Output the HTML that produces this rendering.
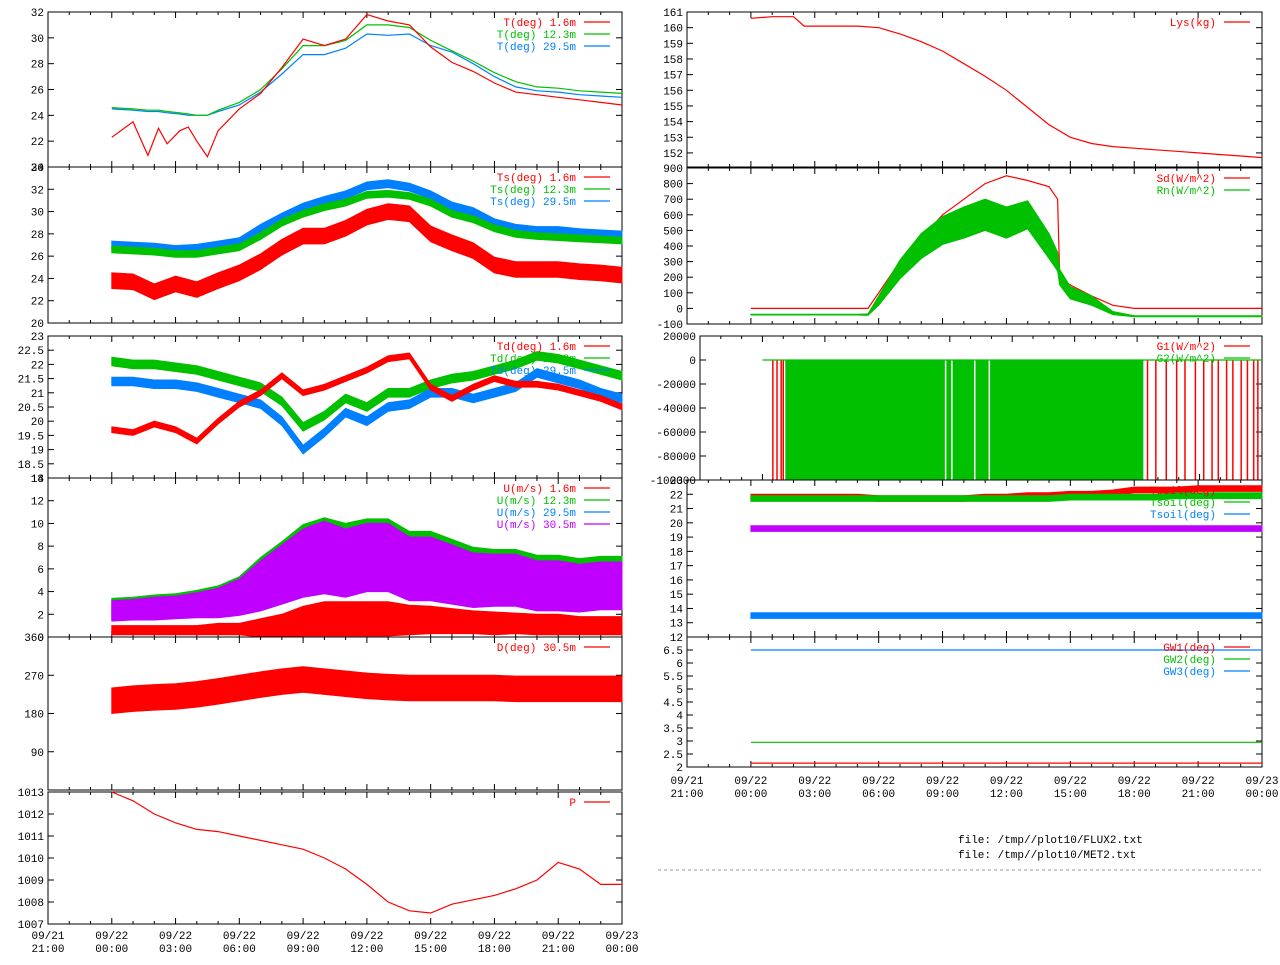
<!DOCTYPE html>
<html><head><meta charset="utf-8">
<style>
body{margin:0;background:#fff;}
svg text{font-family:"Liberation Mono","DejaVu Sans Mono",monospace;font-size:11px;}
</style></head>
<body>
<svg id="chart" width="1280" height="960" xmlns="http://www.w3.org/2000/svg">
<rect width="1280" height="960" fill="#fff"/>
<text x="958" y="843">file: /tmp//plot10/FLUX2.txt</text>
<text x="958" y="858">file: /tmp//plot10/MET2.txt</text>
<line x1="658" y1="870" x2="1262" y2="870" stroke="#999" stroke-dasharray="3,3"/>
</svg>
<script>
// hours since 09/22 00:00
const hrs = [0,1,2,3,4,5,6,7,8,9,10,11,12,13,14,15,16,17,18,19,20,21,22,23,24];
const tT = [0,1,1.7,2.2,2.6,3.2,3.6,4,4.5,5,6,7,8,9,10,11,12,13,14,15,16,17,18,19,20,21,22,23,24];
const t16 = [22.3,23.5,20.9,23.0,21.8,22.8,23.1,22.0,20.8,22.8,24.5,25.7,27.7,29.9,29.4,29.9,31.8,31.3,31.0,29.3,28.1,27.4,26.5,25.8,25.6,25.4,25.2,25.0,24.8];
const t123 = [24.6,24.5,24.4,24.4,24.3,24.2,24.1,24.0,24.0,24.4,25.0,26.0,27.6,29.4,29.4,29.8,31.0,31.0,30.8,29.8,29.0,28.2,27.3,26.6,26.2,26.1,25.9,25.8,25.7];
const t295 = [24.5,24.4,24.3,24.3,24.2,24.1,24.0,24.0,24.0,24.3,24.8,25.8,27.2,28.7,28.7,29.2,30.3,30.2,30.3,29.4,28.9,28.0,27.0,26.2,25.9,25.8,25.6,25.5,25.4];
const ts16 = [23.8,23.7,22.8,23.5,23.0,23.8,24.5,25.5,26.8,27.8,27.8,28.5,29.5,30.0,29.8,28.0,27.2,26.5,25.2,24.8,24.8,24.8,24.6,24.5,24.3];
const ts123 = [26.6,26.5,26.4,26.2,26.2,26.5,26.8,27.8,29.0,29.8,30.4,30.8,31.5,31.6,31.4,30.8,29.8,29.3,28.5,28.0,27.8,27.7,27.6,27.5,27.4];
const ts295 = [27.0,26.9,26.8,26.6,26.7,27.0,27.3,28.5,29.5,30.4,31.0,31.5,32.3,32.5,32.2,31.5,30.5,30.0,29.0,28.5,28.3,28.3,28.1,28.0,27.9];
const td16 = [19.7,19.6,19.9,19.7,19.3,20.0,20.6,21.0,21.6,21.0,21.2,21.5,21.8,22.2,22.3,21.2,20.8,21.2,21.5,21.3,21.3,21.2,21.0,20.8,20.5];
const td123 = [22.1,22.0,22.0,21.9,21.8,21.6,21.4,21.2,20.7,19.8,20.2,20.8,20.5,21.0,21.0,21.3,21.5,21.6,21.8,22.0,22.3,22.2,22.0,21.8,21.6];
const td295 = [21.4,21.4,21.3,21.3,21.2,21.0,20.8,20.6,20.0,19.0,19.6,20.3,20.0,20.5,20.6,21.0,21.0,20.8,21.0,21.2,21.7,21.5,21.3,21.0,20.8];
const u16 = [0.6,0.6,0.6,0.6,0.6,0.7,0.7,0.8,1.0,1.4,1.6,1.6,1.6,1.6,1.5,1.5,1.4,1.3,1.2,1.2,1.1,1.1,1.0,1.0,1.0];
const u16w = [0.4,0.4,0.4,0.4,0.4,0.5,0.5,0.8,1.0,1.3,1.5,1.5,1.5,1.5,1.3,1.2,1.1,1.0,1.0,0.9,0.9,0.9,0.8,0.8,0.8];
const u123 = [2.5,2.6,2.7,2.8,3.0,3.2,3.7,4.8,5.8,6.9,7.3,7.0,7.4,7.4,6.5,6.5,6.0,5.5,5.4,5.4,5.0,5.0,4.8,5.0,5.0];
const u305 = [2.3,2.4,2.5,2.6,2.8,3.0,3.5,4.5,5.5,6.5,7.0,6.5,7.0,7.0,6.0,6.0,5.5,5.0,5.0,5.0,4.5,4.5,4.3,4.5,4.5];
const u305w = [0.9,0.9,1.0,1.0,1.1,1.3,1.6,2.2,2.6,3.0,3.2,3.0,3.0,3.0,2.8,2.8,2.6,2.4,2.3,2.3,2.2,2.2,2.1,2.1,2.1];
const dir = [210,215,218,220,225,232,240,248,255,260,255,250,245,242,240,240,240,240,240,238,238,238,238,238,238];
const pres = [1013.0,1012.6,1012.0,1011.6,1011.3,1011.2,1011.0,1010.8,1010.6,1010.4,1010.0,1009.5,1008.8,1008.0,1007.6,1007.5,1007.9,1008.1,1008.3,1008.6,1009.0,1009.8,1009.5,1008.8,1008.8];
const tL = [0,1,2,2.5,3,4,5,6,7,8,9,10,11,12,13,14,15,16,17,18,19,20,21,22,23,24];
const lys = [160.6,160.7,160.7,160.1,160.1,160.1,160.1,160.0,159.6,159.1,158.5,157.7,156.9,156.0,154.9,153.8,153.0,152.6,152.4,152.3,152.2,152.1,152.0,151.9,151.8,151.7];
const tS = [0,5,5.5,6,7,8,9,10,11,12,13,14,14.4,14.5,15,16,17,18,24];
const sd = [0,0,0,100,300,450,600,700,800,850,820,780,700,200,150,80,20,0,0];
const rn = [-40,-40,-40,50,250,400,500,550,600,550,600,400,300,200,100,50,-30,-50,-50];
const rnw = [2,2,5,30,60,80,90,100,100,100,90,80,60,50,40,30,10,3,3];
const gGreenSpan = [1.1,18.3];
const gRedStripes = [0.5,0.7,0.9,1.0,8.8,9.1,10.2,10.9,18.5,18.9,19.4,19.9,20.3,20.8,21.2,21.6,21.9,22.3,22.6,23.0,23.3,23.6,23.8];
const soilR = [21.8,21.8,21.8,21.8,21.8,21.8,21.7,21.7,21.7,21.7,21.7,21.8,21.8,21.9,21.9,22.0,22.0,22.1,22.3,22.3,22.3,22.4,22.4,22.4,22.4];
const soilG = [21.7,21.7,21.7,21.7,21.7,21.7,21.7,21.7,21.7,21.7,21.7,21.7,21.7,21.7,21.7,21.8,21.8,21.8,21.8,21.8,21.9,21.9,21.9,21.9,21.9];
const soilP = [19.6,19.6,19.6,19.6,19.6,19.6,19.6,19.6,19.6,19.6,19.6,19.6,19.6,19.6,19.6,19.6,19.6,19.6,19.6,19.6,19.6,19.6,19.6,19.6,19.6];
const soilB = [13.5,13.5,13.5,13.5,13.5,13.5,13.5,13.5,13.5,13.5,13.5,13.5,13.5,13.5,13.5,13.5,13.5,13.5,13.5,13.5,13.5,13.5,13.5,13.5,13.5];
const gw1 = [2.15,2.15];
const gw2 = [2.95,2.95];
const gw3 = [6.5,6.5];
const tGW = [0,24];
const xTickLabels = ["09/21","09/22","09/22","09/22","09/22","09/22","09/22","09/22","09/22","09/23"];
const xTickTimes = ["21:00","00:00","03:00","06:00","09:00","12:00","15:00","18:00","21:00","00:00"];

const S = document.getElementById('chart');
const NS = 'http://www.w3.org/2000/svg';
const RED='#ff0000',GRN='#00c000',BLU='#0080ff',PUR='#c000ff';
function mk(tag, at){const e=document.createElementNS(NS,tag);for(const k in at)e.setAttribute(k,at[k]);S.appendChild(e);return e;}

function panel(name,x0,x1,y0,y1,ymin,ymax,ticks,fmt){
  const p={x0,x1,y0,y1,ymin,ymax};
  p.X=t=>x0+(t+3)*(x1-x0)/27;
  p.Y=v=>y1-(v-ymin)*(y1-y0)/(ymax-ymin);
  const fr=mk('rect',{x:x0,y:y0,width:x1-x0,height:y1-y0,fill:'none',stroke:'#000'});
  
  
  ticks.forEach(v=>{
    const y=p.Y(v);
    mk('line',{x1:x0,y1:y,x2:x0+6,y2:y,stroke:'#000'});
    mk('line',{x1:x1,y1:y,x2:x1-6,y2:y,stroke:'#000'});
    const tx=mk('text',{x:x0-4,y:y+4,'text-anchor':'end'});
    tx.textContent=fmt(v);
    
    
  });
  for(let h=-3;h<=24;h++){
    const x=p.X(h),L=(h%3===0)?6:3;
    mk('line',{x1:x,y1:y1,x2:x,y2:y1-L,stroke:'#000'});
    mk('line',{x1:x,y1:y0,x2:x,y2:y0+L,stroke:'#000'});
  }
  return p;
}
function line(p,ts,vs,col,name){
  const d=ts.map((t,i)=>(i?'L':'M')+p.X(t).toFixed(1)+','+p.Y(vs[i]).toFixed(1)).join('');
  const e=mk('path',{d,fill:'none',stroke:col,'stroke-width':1.2});
  
  
}
function band(p,ts,cs,ws,col,name){
  const up=ts.map((t,i)=>p.X(t).toFixed(1)+','+p.Y(cs[i]+(Array.isArray(ws)?ws[i]:ws)).toFixed(1));
  const dn=ts.map((t,i)=>p.X(t).toFixed(1)+','+p.Y(cs[i]-(Array.isArray(ws)?ws[i]:ws)).toFixed(1)).reverse();
  const e=mk('polygon',{points:up.concat(dn).join(' '),fill:col,stroke:col,'stroke-width':1});
  
  
}
function legend(p,items,xr){
  items.forEach((it,i)=>{
    const y=p.y0+14+i*12;
    const tx=mk('text',{x:xr,y:y,'text-anchor':'end',fill:it[1]});
    tx.textContent=it[0];
    
    
    mk('line',{x1:xr+8,y1:y-4,x2:p.x1-12,y2:y-4,stroke:it[1],'stroke-width':1.2});
  });
}
function xlabels(p,y){
  for(let i=0;i<xTickLabels.length;i++){
    const x=p.X(-3+i*3);
    const a=mk('text',{x:x,y:y,'text-anchor':'middle'});a.textContent=xTickLabels[i];
    
    
    const b=mk('text',{x:x,y:y+13,'text-anchor':'middle'});b.textContent=xTickTimes[i];
    
    
  }
}
const rng=(a,b,s)=>{const r=[];for(let v=a;v<=b+1e-9;v+=s)r.push(+v.toFixed(2));return r;};
const LX0=48,LX1=622,RX0=687,RX1=1262;

// Left column
let p=panel('air-temp',LX0,LX1,12,167,20,32,rng(20,32,2),v=>v);
line(p,tT,t295,BLU,'line-t-29-5m');line(p,tT,t123,GRN,'line-t-12-3m');line(p,tT,t16,RED,'line-t-1-6m');
legend(p,[['T(deg)  1.6m',RED],['T(deg) 12.3m',GRN],['T(deg) 29.5m',BLU]],576);

p=panel('sonic-temp',LX0,LX1,167,323,20,34,rng(20,34,2),v=>v);
band(p,hrs,ts295,0.35,BLU,'band-ts-29-5m');band(p,hrs,ts123,0.3,GRN,'band-ts-12-3m');band(p,hrs,ts16,0.7,RED,'band-ts-1-6m');
legend(p,[['Ts(deg)  1.6m',RED],['Ts(deg) 12.3m',GRN],['Ts(deg) 29.5m',BLU]],576);

p=panel('dew-point',LX0,LX1,336,478,18,23,rng(18,23,0.5),v=>v);
band(p,hrs,td123,0.15,GRN,'band-td-12-3m');band(p,hrs,td295,0.15,BLU,'band-td-29-5m');band(p,hrs,td16,0.1,RED,'band-td-1-6m');
legend(p,[['Td(deg)  1.6m',RED],['Td(deg) 12.3m',GRN],['Td(deg) 29.5m',BLU]],576);

p=panel('wind-speed',LX0,LX1,478,637,0,14,rng(0,14,2),v=>v);
band(p,hrs,u123,u305w,GRN,'band-u-12-3m');band(p,hrs,u305,u305w,PUR,'band-u-30-5m');band(p,hrs,u16,u16w,RED,'band-u-1-6m');
legend(p,[['U(m/s)  1.6m',RED],['U(m/s) 12.3m',GRN],['U(m/s) 29.5m',BLU],['U(m/s) 30.5m',PUR]],576);

p=panel('wind-dir',LX0,LX1,637,790,0,360,[90,180,270,360],v=>v);
band(p,hrs,dir,30,RED,'band-d-30-5m');
legend(p,[['D(deg)  30.5m',RED]],576);

p=panel('pressure',LX0,LX1,792,924,1007,1013,rng(1007,1013,1),v=>v);
line(p,hrs,pres,RED,'line-pressure');
legend(p,[['P',RED]],576);
xlabels(p,939);

// Right column
p=panel('lysimeter',RX0,RX1,12,167,151.1,161,rng(152,161,1),v=>v);
line(p,tL,lys,RED,'line-lys');
legend(p,[['Lys(kg)',RED]],1216);

p=panel('radiation',RX0,RX1,168,324,-100,900,rng(-100,900,100),v=>v);
line(p,tS,sd,RED,'line-sd');band(p,tS,rn,rnw,GRN,'band-rn');
legend(p,[['Sd(W/m^2)',RED],['Rn(W/m^2)',GRN]],1216);

p=panel('soil-heat',700,RX1,336,480,-100000,20000,rng(-100000,20000,20000),v=>v);
const gr=mk('rect',{x:p.X(gGreenSpan[0]),y:p.Y(0),width:p.X(gGreenSpan[1])-p.X(gGreenSpan[0]),height:p.Y(-100000)-p.Y(0),fill:GRN});


gRedStripes.forEach(t=>{const e=mk('line',{x1:p.X(t),y1:p.Y(0),x2:p.X(t),y2:p.Y(-100000),stroke:t<1.1?RED:(t<18.3?'#fff':RED),'stroke-width':1.5});
 
 });
line(p,[0,24],[0,0],GRN,'line-g-zero');
legend(p,[['G1(W/m^2)',RED],['G2(W/m^2)',GRN]],1216);

p=panel('soil-temp',RX0,RX1,480,637,12,23,rng(12,23,1),v=>v);
band(p,hrs,soilR,0.2,RED,'band-tsoil-1');band(p,hrs,soilG,0.2,GRN,'band-tsoil-2');band(p,hrs,soilP,0.2,PUR,'band-tsoil-3');band(p,hrs,soilB,0.2,BLU,'band-tsoil-4');
legend(p,[['Tsoil(deg)',RED],['Tsoil(deg)',GRN],['Tsoil(deg)',BLU]],1216);

p=panel('groundwater',RX0,RX1,637,767,2,7,rng(2,6.5,0.5),v=>v);
line(p,tGW,gw1,RED,'line-gw1');line(p,tGW,gw2,GRN,'line-gw2');line(p,tGW,gw3,BLU,'line-gw3');
legend(p,[['GW1(deg)',RED],['GW2(deg)',GRN],['GW3(deg)',BLU]],1216);
xlabels(p,784);
</script>
</body></html>
